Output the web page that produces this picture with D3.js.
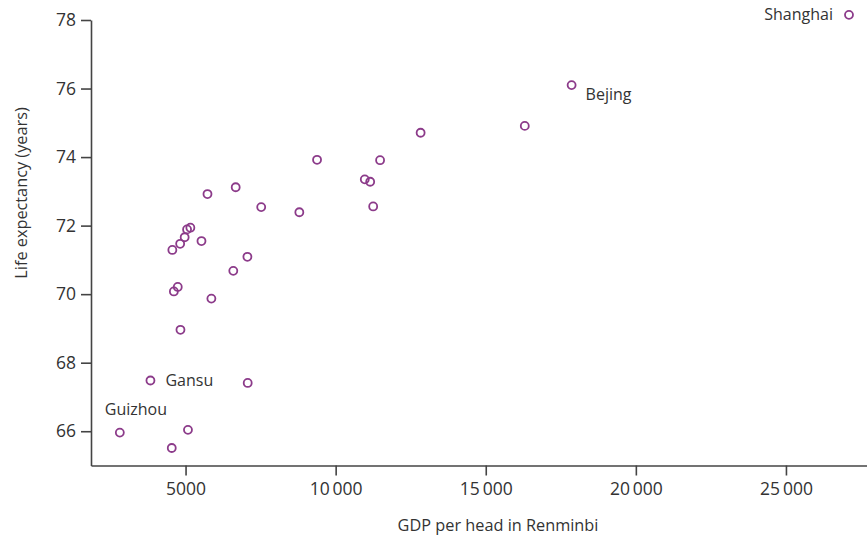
<!DOCTYPE html>
<html>
<head>
<meta charset="utf-8">
<script src="https://cdn.jsdelivr.net/npm/d3@7/dist/d3.min.js"></script>
<style>
  html, body { margin: 0; padding: 0; background: #fff; }
  svg { display: block; }
  text { font-family: "Open Sans", "Noto Sans", sans-serif; fill: #333; }
</style>
</head>
<body>
<svg id="chart" width="867" height="543"></svg>
<script>
// GDP per head (Renminbi) and life expectancy (years) by province
const provinces = [
  "Shanghai", "Bejing", "", "", "", "", "", "", "", "", "", "", "", "", "",
  "", "", "", "", "", "", "", "", "", "", "Gansu", "", "Guizhou", "", ""
];
const gdpPerHead = [
  27100, 17860, 16300, 12830, 11480, 9380, 10970, 11150, 11250, 8790,
  7520, 6670, 5730, 5160, 5050, 4970, 4820, 4560, 5530, 7060,
  6590, 4740, 4610, 5860, 4830, 3830, 7070, 2810, 5080, 4540
];
const lifeExpectancy = [
  78.15, 76.10, 74.91, 74.71, 73.91, 73.92, 73.35, 73.28, 72.56, 72.39,
  72.54, 73.12, 72.92, 71.94, 71.89, 71.66, 71.47, 71.29, 71.55, 71.09,
  70.68, 70.21, 70.08, 69.87, 68.96, 67.48, 67.41, 65.96, 66.04, 65.51
];
const xTicks = [5000, 10000, 15000, 20000, 25000];
const yTicks = [66, 68, 70, 72, 74, 76, 78];

const svg = d3.select("#chart");
const x = d3.scaleLinear().domain([1850, 27700]).range([91, 867]);
const y = d3.scaleLinear().domain([65, 78]).range([465.5, 20]);

// thin space as thousands separator for five-digit values
const fmtX = v => v >= 10000 ? d3.format("d")(v).replace(/(\d{2})(\d{3})$/, "$1\u2009$2") : d3.format("d")(v);

// x axis
const gx = svg.append("g").attr("transform", `translate(0,${y(65)})`)
  .call(d3.axisBottom(x).tickValues(xTicks).tickSize(10).tickPadding(7).tickSizeOuter(0).tickFormat(fmtX));
// y axis
const gy = svg.append("g").attr("transform", `translate(${x(1850)},0)`)
  .call(d3.axisLeft(y).tickValues(yTicks).tickSize(10).tickPadding(5).tickSizeOuter(0).tickFormat(d3.format("d")));

[gx, gy].forEach(g => {
  g.select(".domain").attr("stroke", "#444").attr("stroke-width", 1.6);
  g.selectAll(".tick line").attr("stroke", "#444").attr("stroke-width", 1.6);
  g.selectAll(".tick text").attr("fill", "#333").style("font-size", "17.5px")
    .style("font-family", "'Open Sans', 'Noto Sans', sans-serif");
});

// axis titles
svg.append("text").attr("x", 498).attr("y", 531).attr("text-anchor", "middle")
  .style("font-size", "16.3px").text("GDP per head in Renminbi");
svg.append("text").attr("transform", "translate(27,193) rotate(-90)").attr("text-anchor", "middle")
  .style("font-size", "16.3px").text("Life expectancy (years)");

// points
const pts = gdpPerHead.map((g, i) => ({ g, le: lifeExpectancy[i], name: provinces[i] }));
svg.append("g").selectAll("circle").data(pts).join("circle")
  .attr("cx", d => x(d.g)).attr("cy", d => y(d.le)).attr("r", 4)
  .attr("fill", "none").attr("stroke", "#8c3b8a").attr("stroke-width", 1.8);

// point labels
const labelPlacement = {
  "Shanghai": { dx: -16, dy: 0, anchor: "end" },
  "Bejing": { dx: 14, dy: 9, anchor: "start" },
  "Gansu": { dx: 15, dy: 0, anchor: "start" },
  "Guizhou": { dx: -15, dy: -23, anchor: "start" }
};
svg.append("g").selectAll("text").data(pts.filter(d => d.name)).join("text")
  .attr("x", d => x(d.g) + labelPlacement[d.name].dx)
  .attr("y", d => y(d.le) + labelPlacement[d.name].dy)
  .attr("dy", "0.35em")
  .attr("text-anchor", d => labelPlacement[d.name].anchor)
  .style("font-size", "16px")
  .text(d => d.name);
</script>
</body>
</html>
